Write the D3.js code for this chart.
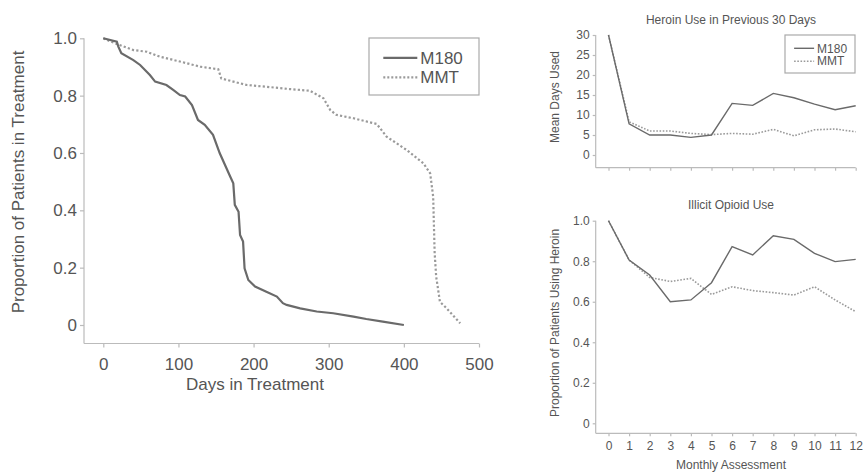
<!DOCTYPE html>
<html><head><meta charset="utf-8">
<script src="https://cdn.jsdelivr.net/npm/d3@7"></script>
<style>body{margin:0;background:#fff}svg{display:block}text{font-family:"Liberation Sans",Arial,sans-serif;fill:#555}</style>
</head><body><svg id="c" width="863" height="472"></svg>
<script>
// Survival (retention) curves: [day, proportion]
const m180Retention = [[0,1.0],[18,0.988],[20,0.971],[24,0.948],[40,0.924],[49,0.907],[62,0.872],[69,0.849],[84,0.837],[93,0.820],[102,0.802],[109,0.797],[118,0.767],[126,0.715],[135,0.698],[146,0.663],[155,0.599],[169,0.517],[173,0.494],[175,0.419],[180,0.395],[182,0.314],[186,0.291],[188,0.198],[193,0.157],[202,0.134],[217,0.116],[231,0.099],[239,0.076],[244,0.070],[262,0.058],[284,0.047],[306,0.041],[333,0.029],[350,0.021],[372,0.012],[400,0.0]];
const mmtRetention = [[0,1.0],[18,0.98],[40,0.959],[58,0.953],[75,0.936],[102,0.919],[120,0.907],[129,0.901],[153,0.892],[157,0.860],[173,0.849],[191,0.837],[217,0.831],[248,0.823],[275,0.817],[293,0.791],[302,0.750],[310,0.733],[333,0.721],[364,0.701],[377,0.657],[404,0.610],[426,0.564],[435,0.529],[439,0.448],[441,0.250],[443,0.169],[448,0.081],[457,0.058],[475,0.006]];
const months = [0,1,2,3,4,5,6,7,8,9,10,11,12];
const m180Days = [30,7.8,5.0,5.0,4.4,5.0,12.9,12.4,15.4,14.3,12.7,11.3,12.3];
const mmtDays  = [30,8.3,6.0,6.0,5.4,5.1,5.4,5.2,6.4,4.8,6.3,6.5,5.8];
const m180Prop = [1.0,0.806,0.732,0.600,0.609,0.694,0.872,0.831,0.926,0.908,0.839,0.798,0.809];
const mmtProp  = [1.0,0.806,0.720,0.700,0.715,0.636,0.674,0.655,0.645,0.633,0.674,0.609,0.551];
const leftXTicks = [0,100,200,300,400,500];
const leftYTicks = [0,0.2,0.4,0.6,0.8,1.0];
const daysTicks = [0,5,10,15,20,25,30];
const propTicks = [0,0.2,0.4,0.6,0.8,1.0];
const seriesNames = ["M180","MMT"];

const svg = d3.select("#c");
const axisCol = "#bbb", solidCol = "#6a6a6a", dotCol = "#9a9a9a";
const fmtY = d => d === 0 ? "0" : d3.format(".1f")(d);

function drawAxes(g, x, y, xTicks, yTicks, xBase, yLeft, fs, showXLabels, yFmt, tickLen) {
  const ax = g.append("g").attr("transform", `translate(0,${xBase})`)
    .call(d3.axisBottom(x).tickValues(xTicks).tickSize(tickLen).tickPadding(fs*0.45).tickFormat(showXLabels ? d3.format("d") : ""));
  ax.select(".domain").remove();
  ax.append("line").attr("x1", yLeft).attr("x2", x.range()[1]).attr("stroke", axisCol).attr("stroke-width",1.2);
  const ay = g.append("g").attr("transform", `translate(${yLeft},0)`)
    .call(d3.axisLeft(y).tickValues(yTicks).tickSize(tickLen).tickPadding(3).tickFormat(yFmt));
  ay.select(".domain").remove();
  ay.append("line").attr("y1", y.range()[1]).attr("y2", xBase).attr("stroke", axisCol).attr("stroke-width",1.2);
  [ax, ay].forEach(a => {
    a.selectAll(".tick line").attr("stroke", axisCol).attr("stroke-width",1.2);
    a.selectAll(".tick text").attr("fill", "#555").style("font-size", fs + "px").style("font-family", '"Liberation Sans",Arial,sans-serif');
  });
}

function legend(g, x0, y0, w, h, items, fs, lineLen, sw) {
  g.append("rect").attr("x", x0).attr("y", y0).attr("width", w).attr("height", h)
    .attr("fill", "#fff").attr("stroke", "#aaa").attr("stroke-width", 1.2);
  items.forEach((it, i) => {
    const yy = y0 + h * (0.35 + 0.34 * i);
    g.append("line").attr("x1", x0 + w*0.13).attr("x2", x0 + w*0.13 + lineLen).attr("y1", yy).attr("y2", yy)
      .attr("stroke", it.col).attr("stroke-width", sw).attr("stroke-dasharray", it.dash);
    g.append("text").attr("x", x0 + w*0.13 + lineLen + 3).attr("y", yy).attr("dy", "0.35em")
      .style("font-size", fs + "px").text(it.name);
  });
}

// ---- Left chart ----
{
  const g = svg.append("g");
  const x = d3.scaleLinear().domain([0, 500]).range([103.3, 479]);
  const y = d3.scaleLinear().domain([0, 1]).range([325, 38.3]);
  drawAxes(g, x, y, leftXTicks, leftYTicks, 343.5, 84, 17, true, fmtY, 4);
  g.selectAll(".tick text").filter(function(){return this.parentNode.parentNode.getAttribute("transform").startsWith("translate(0");}).attr("dy","0.9em");
  const line = d3.line().x(d => x(d[0])).y(d => y(d[1]));
  g.append("path").datum(mmtRetention).attr("d", line).attr("fill","none").attr("stroke", dotCol).attr("stroke-width",2.2).attr("stroke-dasharray","2.2,2.2");
  g.append("path").datum(m180Retention).attr("d", line).attr("fill","none").attr("stroke", solidCol).attr("stroke-width",2.2);
  g.append("text").attr("x", 255).attr("y", 390).attr("text-anchor","middle").style("font-size","17px").text("Days in Treatment");
  g.append("text").attr("transform","translate(24,182) rotate(-90)").attr("text-anchor","middle").style("font-size","17px").text("Proportion of Patients in Treatment");
  legend(g, 369, 38, 110, 57, [{name:seriesNames[0], col:solidCol, dash:null},{name:seriesNames[1], col:dotCol, dash:"2,2"}], 17, 34, 2.2);
}

// ---- Top right ----
{
  const g = svg.append("g");
  const x = d3.scaleLinear().domain([0, 12]).range([608.5, 855.7]);
  const y = d3.scaleLinear().domain([0, 30]).range([155, 35]);
  drawAxes(g, x, y, months, daysTicks, 167.7, 595.7, 12, false, d3.format("d"), 3);
  const line = d3.line().x((d,i) => x(months[i])).y(d => y(d));
  g.append("path").datum(mmtDays).attr("d", line).attr("fill","none").attr("stroke", dotCol).attr("stroke-width",1.6).attr("stroke-dasharray","1.6,1.6");
  g.append("path").datum(m180Days).attr("d", line).attr("fill","none").attr("stroke", solidCol).attr("stroke-width",1.4);
  g.append("text").attr("x", 731).attr("y", 24).attr("text-anchor","middle").style("font-size","12px").text("Heroin Use in Previous 30 Days");
  g.append("text").attr("transform","translate(559,97) rotate(-90)").attr("text-anchor","middle").style("font-size","12px").text("Mean Days Used");
  legend(g, 785, 35, 70, 38, [{name:seriesNames[0], col:solidCol, dash:null},{name:seriesNames[1], col:dotCol, dash:"1.6,1.6"}], 12, 20, 1.4);
}

// ---- Bottom right ----
{
  const g = svg.append("g");
  const x = d3.scaleLinear().domain([0, 12]).range([608.5, 855.7]);
  const y = d3.scaleLinear().domain([0, 1]).range([423.3, 220.7]);
  drawAxes(g, x, y, months, propTicks, 433.3, 595.7, 12, true, fmtY, 3);
  const line = d3.line().x((d,i) => x(months[i])).y(d => y(d));
  g.append("path").datum(mmtProp).attr("d", line).attr("fill","none").attr("stroke", dotCol).attr("stroke-width",1.6).attr("stroke-dasharray","1.6,1.6");
  g.append("path").datum(m180Prop).attr("d", line).attr("fill","none").attr("stroke", solidCol).attr("stroke-width",1.4);
  g.append("text").attr("x", 731).attr("y", 209).attr("text-anchor","middle").style("font-size","12px").text("Illicit Opioid Use");
  g.append("text").attr("x", 731).attr("y", 469).attr("text-anchor","middle").style("font-size","12px").text("Monthly Assessment");
  g.append("text").attr("transform","translate(559,323) rotate(-90)").attr("text-anchor","middle").style("font-size","12px").text("Proportion of Patients Using Heroin");
}
</script></body></html>
